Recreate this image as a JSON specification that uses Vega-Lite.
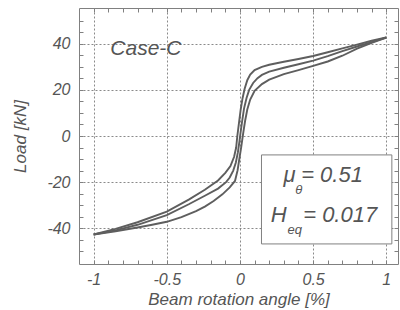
{
  "$schema": "https://vega.github.io/schema/vega-lite/v6.json",
  "width": 319,
  "height": 256,
  "autosize": {"type": "none"},
  "padding": {"left": 79, "top": 8, "right": 2, "bottom": 46},
  "config": {
    "font": "Liberation Sans",
    "view": {"stroke": "#808080", "strokeWidth": 1},
    "axis": {
      "labelFont": "Liberation Sans",
      "labelFontStyle": "italic",
      "labelFontSize": 16,
      "labelColor": "#555555",
      "titleFont": "Liberation Sans",
      "titleFontStyle": "italic",
      "titleFontWeight": "normal",
      "titleFontSize": 17,
      "titleColor": "#555555",
      "tickColor": "#808080",
      "tickSize": -4,
      "domain": false,
      "labelOverlap": false,
      "labelFlush": false,
      "gridColor": "#8a8a8a",
      "gridDash": [2, 2],
      "gridWidth": 1
    }
  },
  "datasets": {
    "curves": [
      {"b": "U", "i": 1, "x": 1, "y": 42.7}, {"b": "U", "i": 2, "x": 0.9, "y": 41.3}, {"b": "U", "i": 3, "x": 0.8, "y": 39.6}, {"b": "U", "i": 4, "x": 0.7, "y": 38}, {"b": "U", "i": 5, "x": 0.6, "y": 36.3}, {"b": "U", "i": 6, "x": 0.5, "y": 34.7}, {"b": "U", "i": 7, "x": 0.4, "y": 33.4}, {"b": "U", "i": 8, "x": 0.3, "y": 32.2}, {"b": "U", "i": 9, "x": 0.2, "y": 30.9}, {"b": "U", "i": 10, "x": 0.15, "y": 30}, {"b": "U", "i": 11, "x": 0.1, "y": 28.6}, {"b": "U", "i": 12, "x": 0.07, "y": 26.6}, {"b": "U", "i": 13, "x": 0.05, "y": 24.2}, {"b": "U", "i": 14, "x": 0.032, "y": 20.5}, {"b": "U", "i": 15, "x": 0.018, "y": 16.5}, {"b": "U", "i": 16, "x": 0.005, "y": 11.5}, {"b": "U", "i": 17, "x": -0.008, "y": 5}, {"b": "U", "i": 18, "x": -0.018, "y": 0}, {"b": "U", "i": 19, "x": -0.026, "y": -5}, {"b": "U", "i": 20, "x": -0.04, "y": -9}, {"b": "U", "i": 21, "x": -0.065, "y": -13}, {"b": "U", "i": 22, "x": -0.1, "y": -16}, {"b": "U", "i": 23, "x": -0.15, "y": -19.3}, {"b": "U", "i": 24, "x": -0.24, "y": -23.3}, {"b": "U", "i": 25, "x": -0.35, "y": -27.6}, {"b": "U", "i": 26, "x": -0.5, "y": -32.8}, {"b": "U", "i": 27, "x": -0.7, "y": -37.4}, {"b": "U", "i": 28, "x": -0.85, "y": -40.3}, {"b": "U", "i": 29, "x": -1, "y": -42.7},
      {"b": "M", "i": 1, "x": 1, "y": 42.7}, {"b": "M", "i": 2, "x": 0.9, "y": 40.7}, {"b": "M", "i": 3, "x": 0.8, "y": 38.8}, {"b": "M", "i": 4, "x": 0.7, "y": 36.8}, {"b": "M", "i": 5, "x": 0.6, "y": 34.6}, {"b": "M", "i": 6, "x": 0.5, "y": 32.7}, {"b": "M", "i": 7, "x": 0.4, "y": 31.1}, {"b": "M", "i": 8, "x": 0.3, "y": 29.6}, {"b": "M", "i": 9, "x": 0.2, "y": 27.9}, {"b": "M", "i": 10, "x": 0.15, "y": 26.5}, {"b": "M", "i": 11, "x": 0.12, "y": 25.1}, {"b": "M", "i": 12, "x": 0.09, "y": 23}, {"b": "M", "i": 13, "x": 0.063, "y": 20}, {"b": "M", "i": 14, "x": 0.045, "y": 16.5}, {"b": "M", "i": 15, "x": 0.028, "y": 12}, {"b": "M", "i": 16, "x": 0.014, "y": 6}, {"b": "M", "i": 17, "x": 0.004, "y": 1.5}, {"b": "M", "i": 18, "x": -0.004, "y": -2.5}, {"b": "M", "i": 19, "x": -0.014, "y": -7}, {"b": "M", "i": 20, "x": -0.028, "y": -11.5}, {"b": "M", "i": 21, "x": -0.046, "y": -15}, {"b": "M", "i": 22, "x": -0.07, "y": -18}, {"b": "M", "i": 23, "x": -0.095, "y": -20}, {"b": "M", "i": 24, "x": -0.15, "y": -22.8}, {"b": "M", "i": 25, "x": -0.24, "y": -25.9}, {"b": "M", "i": 26, "x": -0.35, "y": -29.6}, {"b": "M", "i": 27, "x": -0.5, "y": -34.3}, {"b": "M", "i": 28, "x": -0.7, "y": -38.5}, {"b": "M", "i": 29, "x": -0.85, "y": -40.9}, {"b": "M", "i": 30, "x": -1, "y": -42.7},
      {"b": "L", "i": 1, "x": -1, "y": -42.7}, {"b": "L", "i": 2, "x": -0.85, "y": -41.3}, {"b": "L", "i": 3, "x": -0.7, "y": -39.7}, {"b": "L", "i": 4, "x": -0.6, "y": -38.5}, {"b": "L", "i": 5, "x": -0.5, "y": -37.2}, {"b": "L", "i": 6, "x": -0.4, "y": -35.2}, {"b": "L", "i": 7, "x": -0.3, "y": -32.6}, {"b": "L", "i": 8, "x": -0.24, "y": -30.6}, {"b": "L", "i": 9, "x": -0.18, "y": -28.2}, {"b": "L", "i": 10, "x": -0.12, "y": -25.3}, {"b": "L", "i": 11, "x": -0.07, "y": -22.3}, {"b": "L", "i": 12, "x": -0.034, "y": -19.5}, {"b": "L", "i": 13, "x": -0.016, "y": -14.8}, {"b": "L", "i": 14, "x": -0.002, "y": -9}, {"b": "L", "i": 15, "x": 0.008, "y": -5}, {"b": "L", "i": 16, "x": 0.016, "y": -1.5}, {"b": "L", "i": 17, "x": 0.024, "y": 2}, {"b": "L", "i": 18, "x": 0.035, "y": 6.5}, {"b": "L", "i": 19, "x": 0.05, "y": 11.5}, {"b": "L", "i": 20, "x": 0.07, "y": 15.8}, {"b": "L", "i": 21, "x": 0.1, "y": 19.6}, {"b": "L", "i": 22, "x": 0.15, "y": 22.5}, {"b": "L", "i": 23, "x": 0.2, "y": 24.4}, {"b": "L", "i": 24, "x": 0.3, "y": 26.8}, {"b": "L", "i": 25, "x": 0.4, "y": 28.6}, {"b": "L", "i": 26, "x": 0.5, "y": 30.4}, {"b": "L", "i": 27, "x": 0.6, "y": 32.3}, {"b": "L", "i": 28, "x": 0.7, "y": 34.8}, {"b": "L", "i": 29, "x": 0.8, "y": 37.9}, {"b": "L", "i": 30, "x": 0.9, "y": 40.4}, {"b": "L", "i": 31, "x": 1, "y": 42.7}
    ],
    "box": [{"x1": 0.147, "x2": 1.038, "y1": -8.2, "y2": -46.8}],
    "big": [{"x": -0.886, "y": 35.2, "t": "Case-C"}],
    "main": [
      {"x": 0.298, "y": -19.8, "t": "μ"},
      {"x": 0.418, "y": -19.8, "t": "= 0.51"},
      {"x": 0.21, "y": -37.2, "t": "H"},
      {"x": 0.432, "y": -37.2, "t": "= 0.017"}
    ],
    "sub": [
      {"x": 0.378, "y": -25.3, "t": "θ"},
      {"x": 0.325, "y": -42.4, "t": "eq"}
    ]
  },
  "resolve": {"axis": {"x": "independent", "y": "independent"}},
  "layer": [
    {
      "data": {"name": "curves"},
      "mark": {"type": "line", "stroke": "#5e5e5e", "strokeWidth": 1.9, "interpolate": "linear"},
      "encoding": {
        "x": {
          "field": "x", "type": "quantitative",
          "scale": {"domain": [-1.1, 1.08], "nice": false, "zero": false},
          "axis": {
            "orient": "bottom",
            "values": [-1, -0.9, -0.8, -0.7, -0.6, -0.5, -0.4, -0.3, -0.2, -0.1, 0, 0.1, 0.2, 0.3, 0.4, 0.5, 0.6, 0.7, 0.8, 0.9, 1],
            "title": "Beam rotation angle [%]",
            "titlePadding": 4,
            "labelPadding": 11,
            "grid": true,
            "gridOpacity": {"condition": {"test": "abs(datum.value*2 - round(datum.value*2)) < 0.001", "value": 1}, "value": 0},
            "labelExpr": "abs(datum.value*2 - round(datum.value*2)) < 0.001 ? '' + round(datum.value*2)/2 : ''"
          }
        },
        "y": {
          "field": "y", "type": "quantitative",
          "scale": {"domain": [-55.5, 55.5], "nice": false, "zero": false},
          "axis": {
            "orient": "left",
            "values": [-50, -45, -40, -35, -30, -25, -20, -15, -10, -5, 0, 5, 10, 15, 20, 25, 30, 35, 40, 45, 50],
            "title": "Load [kN]",
            "titlePadding": 17,
            "labelPadding": 13,
            "grid": true,
            "gridOpacity": {"condition": {"test": "abs(datum.value % 20) < 0.001", "value": 1}, "value": 0},
            "labelExpr": "abs(datum.value % 20) < 0.001 ? '' + datum.value : ''"
          }
        },
        "detail": {"field": "b", "type": "nominal"},
        "order": {"field": "i", "type": "quantitative"}
      }
    },
    {
      "data": {"name": "box"},
      "mark": {"type": "rect", "fill": "white", "stroke": "#808080", "strokeWidth": 1},
      "encoding": {
        "x": {
          "field": "x1", "type": "quantitative",
          "axis": {
            "orient": "top",
            "values": [-1, -0.9, -0.8, -0.7, -0.6, -0.5, -0.4, -0.3, -0.2, -0.1, 0, 0.1, 0.2, 0.3, 0.4, 0.5, 0.6, 0.7, 0.8, 0.9, 1],
            "labels": false, "title": null, "grid": false
          }
        },
        "x2": {"field": "x2"},
        "y": {
          "field": "y1", "type": "quantitative",
          "axis": {
            "orient": "right",
            "values": [-50, -45, -40, -35, -30, -25, -20, -15, -10, -5, 0, 5, 10, 15, 20, 25, 30, 35, 40, 45, 50],
            "labels": false, "title": null, "grid": false
          }
        },
        "y2": {"field": "y2"}
      }
    },
    {
      "data": {"name": "big"},
      "mark": {"type": "text", "align": "left", "baseline": "alphabetic", "fontSize": 21, "fontStyle": "italic", "font": "Liberation Sans", "fill": "#555555"},
      "encoding": {
        "x": {"field": "x", "type": "quantitative", "axis": null},
        "y": {"field": "y", "type": "quantitative", "axis": null},
        "text": {"field": "t"}
      }
    },
    {
      "data": {"name": "main"},
      "mark": {"type": "text", "align": "left", "baseline": "alphabetic", "fontSize": 22, "fontStyle": "italic", "font": "Liberation Sans", "fill": "#555555"},
      "encoding": {
        "x": {"field": "x", "type": "quantitative", "axis": null},
        "y": {"field": "y", "type": "quantitative", "axis": null},
        "text": {"field": "t"}
      }
    },
    {
      "data": {"name": "sub"},
      "mark": {"type": "text", "align": "left", "baseline": "alphabetic", "fontSize": 13, "fontStyle": "italic", "font": "Liberation Sans", "fill": "#555555"},
      "encoding": {
        "x": {"field": "x", "type": "quantitative", "axis": null},
        "y": {"field": "y", "type": "quantitative", "axis": null},
        "text": {"field": "t"}
      }
    }
  ]
}
